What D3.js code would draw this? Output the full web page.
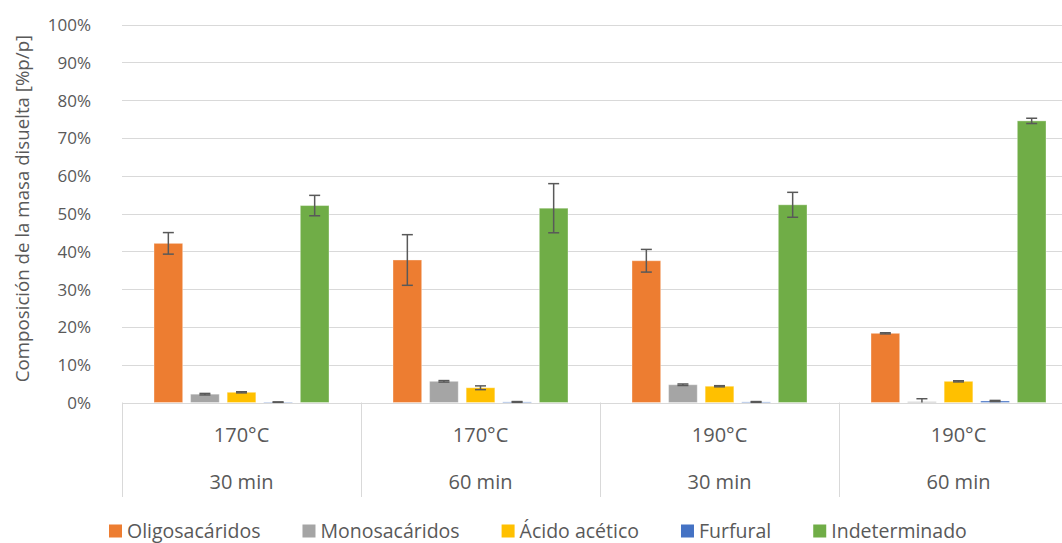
<!DOCTYPE html>
<html>
<head>
<meta charset="utf-8">
<script src="https://cdn.jsdelivr.net/npm/d3@7"></script>
<style>
  html, body { margin: 0; padding: 0; background: #fff; overflow: hidden; }
  svg { display: block; font-family: "Open Sans", sans-serif; }
</style>
</head>
<body>
<svg id="chart" width="1062" height="543"></svg>
<script>
// Condiciones de pretratamiento (eje de categorías de dos niveles)
const temperatures = ["170°C", "170°C", "190°C", "190°C"];
const times = ["30 min", "60 min", "30 min", "60 min"];

// Componentes de la masa disuelta
const seriesNames = ["Oligosacáridos", "Monosacáridos", "Ácido acético", "Furfural", "Indeterminado"];
const seriesColors = ["#ED7D31", "#A5A5A5", "#FFC000", "#4472C4", "#70AD47"];

// Valores medios (%p/p)
const oligosacaridos = [42.1, 37.7, 37.5, 18.3];
const monosacaridos  = [2.2, 5.6, 4.7, 0.2];
const acidoAcetico   = [2.7, 3.9, 4.3, 5.6];
const furfural       = [0.1, 0.15, 0.15, 0.4];
const indeterminado  = [52.1, 51.4, 52.3, 74.5];

// Desviaciones (barras de error, %p/p)
const errOligosacaridos = [2.85, 6.7, 3.0, 0.15];
const errMonosacaridos  = [0.2, 0.2, 0.2, 0.8];
const errAcidoAcetico   = [0.15, 0.5, 0.15, 0.15];
const errFurfural       = [0.05, 0.1, 0.1, 0.15];
const errIndeterminado  = [2.7, 6.5, 3.3, 0.7];

// Marcas del eje de valores
const yTicks = [0, 0.1, 0.2, 0.3, 0.4, 0.5, 0.6, 0.7, 0.8, 0.9, 1.0];

const seriesValues = [oligosacaridos, monosacaridos, acidoAcetico, furfural, indeterminado];
const seriesErrors = [errOligosacaridos, errMonosacaridos, errAcidoAcetico, errFurfural, errIndeterminado];

const categoryKeys = temperatures.map((t, i) => i);
const rows = [];
categoryKeys.forEach(ci => {
  seriesNames.forEach((s, si) => {
    rows.push({ ci, si, name: s, value: seriesValues[si][ci] / 100, err: seriesErrors[si][ci] / 100 });
  });
});

const svg = d3.select("#chart");
const plot = { left: 122, right: 1078, top: 24.5, bottom: 402.5 };

const x0 = d3.scaleBand().domain(categoryKeys).range([plot.left, plot.right]).paddingInner(0).paddingOuter(0);
const groupWidth = 175;
const groupOffset = (x0.bandwidth() - groupWidth) / 2;
const x1 = d3.scaleBand().domain(d3.range(seriesNames.length))
  .range([groupOffset, groupOffset + groupWidth]).paddingInner(0.216).paddingOuter(0);
const y = d3.scaleLinear().domain([0, 1]).range([plot.bottom, plot.top]);
const color = d3.scaleOrdinal().domain(d3.range(seriesNames.length)).range(seriesColors);

// Líneas de división horizontales
svg.append("g")
  .selectAll("line")
  .data(yTicks)
  .join("line")
  .attr("x1", plot.left).attr("x2", plot.right)
  .attr("y1", d => Math.round(y(d)) + 0.5).attr("y2", d => Math.round(y(d)) + 0.5)
  .attr("stroke", "#D9D9D9").attr("stroke-width", 1);

// Eje vertical (etiquetas de porcentaje)
const yAxis = d3.axisLeft(y).tickValues(yTicks).tickFormat(d3.format(".0%")).tickSize(0).tickPadding(0);
const gy = svg.append("g").attr("transform", "translate(91,0)").call(yAxis);
gy.select(".domain").remove();
gy.selectAll("text")
  .attr("fill", "#595959")
  .style("font-size", "17px")
  .style("font-family", "'Open Sans', sans-serif")
  .attr("dy", "0.35em");

// Título del eje vertical
svg.append("text")
  .attr("transform", `translate(29,${(plot.top + plot.bottom) / 2 - 5}) rotate(-90)`)
  .attr("text-anchor", "middle")
  .attr("fill", "#595959")
  .style("font-size", "18.7px")
  .text("Composición de la masa disuelta [%p/p]");

// Eje de categorías de dos niveles
const gx = svg.append("g");
const boundaries = categoryKeys.map(c => x0(c)).concat([plot.right]);
gx.selectAll("line.div")
  .data(boundaries)
  .join("line")
  .attr("class", "div")
  .attr("x1", d => Math.round(d) + 0.5).attr("x2", d => Math.round(d) + 0.5)
  .attr("y1", plot.bottom).attr("y2", 497)
  .attr("stroke", "#D9D9D9").attr("stroke-width", 1);
gx.selectAll("text.temp")
  .data(categoryKeys)
  .join("text")
  .attr("class", "temp")
  .attr("x", c => x0(c) + x0.bandwidth() / 2)
  .attr("y", 435)
  .attr("dy", "0.35em")
  .attr("text-anchor", "middle")
  .attr("fill", "#595959")
  .style("font-size", "20px")
  .text(c => temperatures[c]);
gx.selectAll("text.time")
  .data(categoryKeys)
  .join("text")
  .attr("class", "time")
  .attr("x", c => x0(c) + x0.bandwidth() / 2)
  .attr("y", 482)
  .attr("dy", "0.35em")
  .attr("text-anchor", "middle")
  .attr("fill", "#595959")
  .style("font-size", "20px")
  .text(c => times[c]);

// Barras
svg.append("g")
  .selectAll("rect")
  .data(rows)
  .join("rect")
  .attr("x", d => x0(d.ci) + x1(d.si))
  .attr("width", x1.bandwidth())
  .attr("y", d => y(d.value))
  .attr("height", d => y(0) - y(d.value))
  .attr("fill", d => color(d.si))
  .attr("stroke", "#ffffff").attr("stroke-opacity", 0.35).attr("stroke-width", 1);

// Barras de error
const capHalf = 5.5;
const eb = svg.append("g").attr("stroke", "#595959").attr("stroke-width", 1.5).attr("fill", "none");
const ebGroups = eb.selectAll("g").data(rows).join("g");
ebGroups.each(function(d) {
  const g = d3.select(this);
  const cx = x0(d.ci) + x1(d.si) + x1.bandwidth() / 2;
  const hi = y(d.value + d.err);
  const lo = y(Math.max(0, d.value - d.err));
  g.append("line").attr("x1", cx).attr("x2", cx).attr("y1", hi).attr("y2", lo);
  g.append("line").attr("x1", cx - capHalf).attr("x2", cx + capHalf).attr("y1", hi).attr("y2", hi);
  if (d.value - d.err > 0) {
    g.append("line").attr("x1", cx - capHalf).attr("x2", cx + capHalf).attr("y1", lo).attr("y2", lo);
  }
});

// Leyenda
const legend = svg.append("g").attr("transform", "translate(0,531)");
let lx = 109;
seriesNames.forEach((name, i) => {
  const item = legend.append("g").attr("transform", `translate(${lx},0)`);
  item.append("rect").attr("x", 0).attr("y", -6.5).attr("width", 13).attr("height", 13).attr("fill", seriesColors[i]);
  const t = item.append("text")
    .attr("x", 18).attr("y", 0).attr("dy", "0.35em")
    .attr("fill", "#595959")
    .style("font-size", "19.5px")
    .text(name);
  lx += 18 + t.node().getComputedTextLength() + 42;
});
</script>
</body>
</html>
